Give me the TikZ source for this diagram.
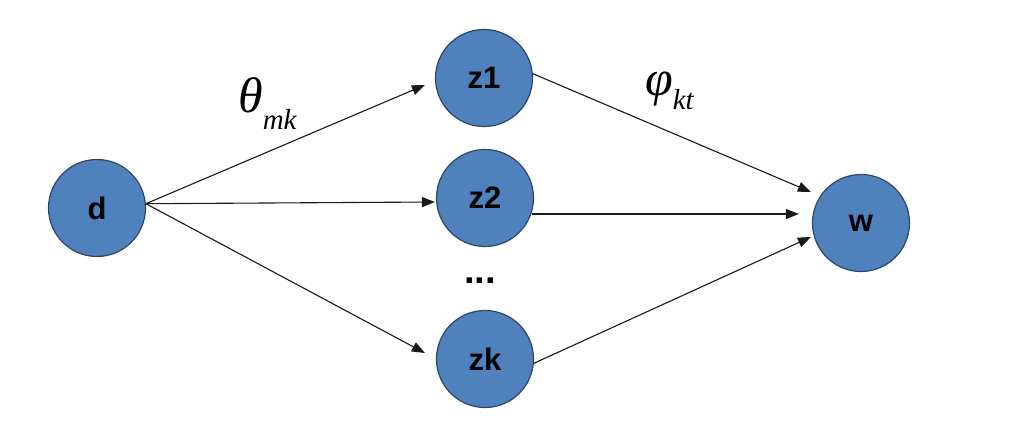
\documentclass[tikz,border=0pt]{standalone}
\usepackage{fontspec}
\setmainfont{Liberation Serif}
\newfontfamily\nodesans{Liberation Sans}
\usetikzlibrary{arrows.meta}
\definecolor{nodeblue}{RGB}{79,129,189}
\definecolor{nodeedge}{RGB}{44,70,104}
\tikzset{
  var/.style={circle, fill=nodeblue, draw=nodeedge, line width=1.2pt,
    minimum size=97pt, inner sep=0pt,
    font=\nodesans\bfseries\fontsize{31}{31}\selectfont},
  conn/.style={draw=black!90, line width=1.1pt,
    -{Triangle[length=13pt,width=10pt]}},
  glabel/.style={inner sep=0pt, anchor=base west}
}
\begin{document}
\begin{tikzpicture}[x=1pt,y=-1pt]
\useasboundingbox (0,0) rectangle (1018,438);
\node[var] (d) at (97,208) {d};
\node[var] (z1) at (484,78) {z1};
\node[var] (z2) at (485,198) {z2};
\node[var] (zk) at (485,359) {zk};
\node[var] (w) at (861,223) {w};
\node[inner sep=0pt, font=\nodesans\bfseries\fontsize{38}{38}\selectfont] (dots) at (480,281) {...};
\draw[conn] (d.5) -- ([shift={(-10,7)}]z1.west);
\draw[conn] (d.5) -- ([shift={(-1,4)}]z2.west);
\draw[conn] (d.5) -- ([shift={(-11,-6)}]zk.west);
\draw[conn] (z1.5) -- ([shift={(-1,-31)}]w.west);
\draw[conn] ([shift={(-2,16)}]z2.east) -- ([shift={(-13,-9)}]w.west);
\draw[conn] (zk.-5) -- ([shift={(-1,14)}]w.west);
\node[glabel] (theta) at (238,113) {\fontsize{50}{50}\selectfont\itshape θ\raisebox{-17pt}{\fontsize{29}{29}\selectfont mk}};
\node[glabel] (phi) at (645,96) {\fontsize{50}{50}\selectfont\itshape φ\raisebox{-14pt}{\fontsize{29}{29}\selectfont kt}};
\end{tikzpicture}
\end{document}
